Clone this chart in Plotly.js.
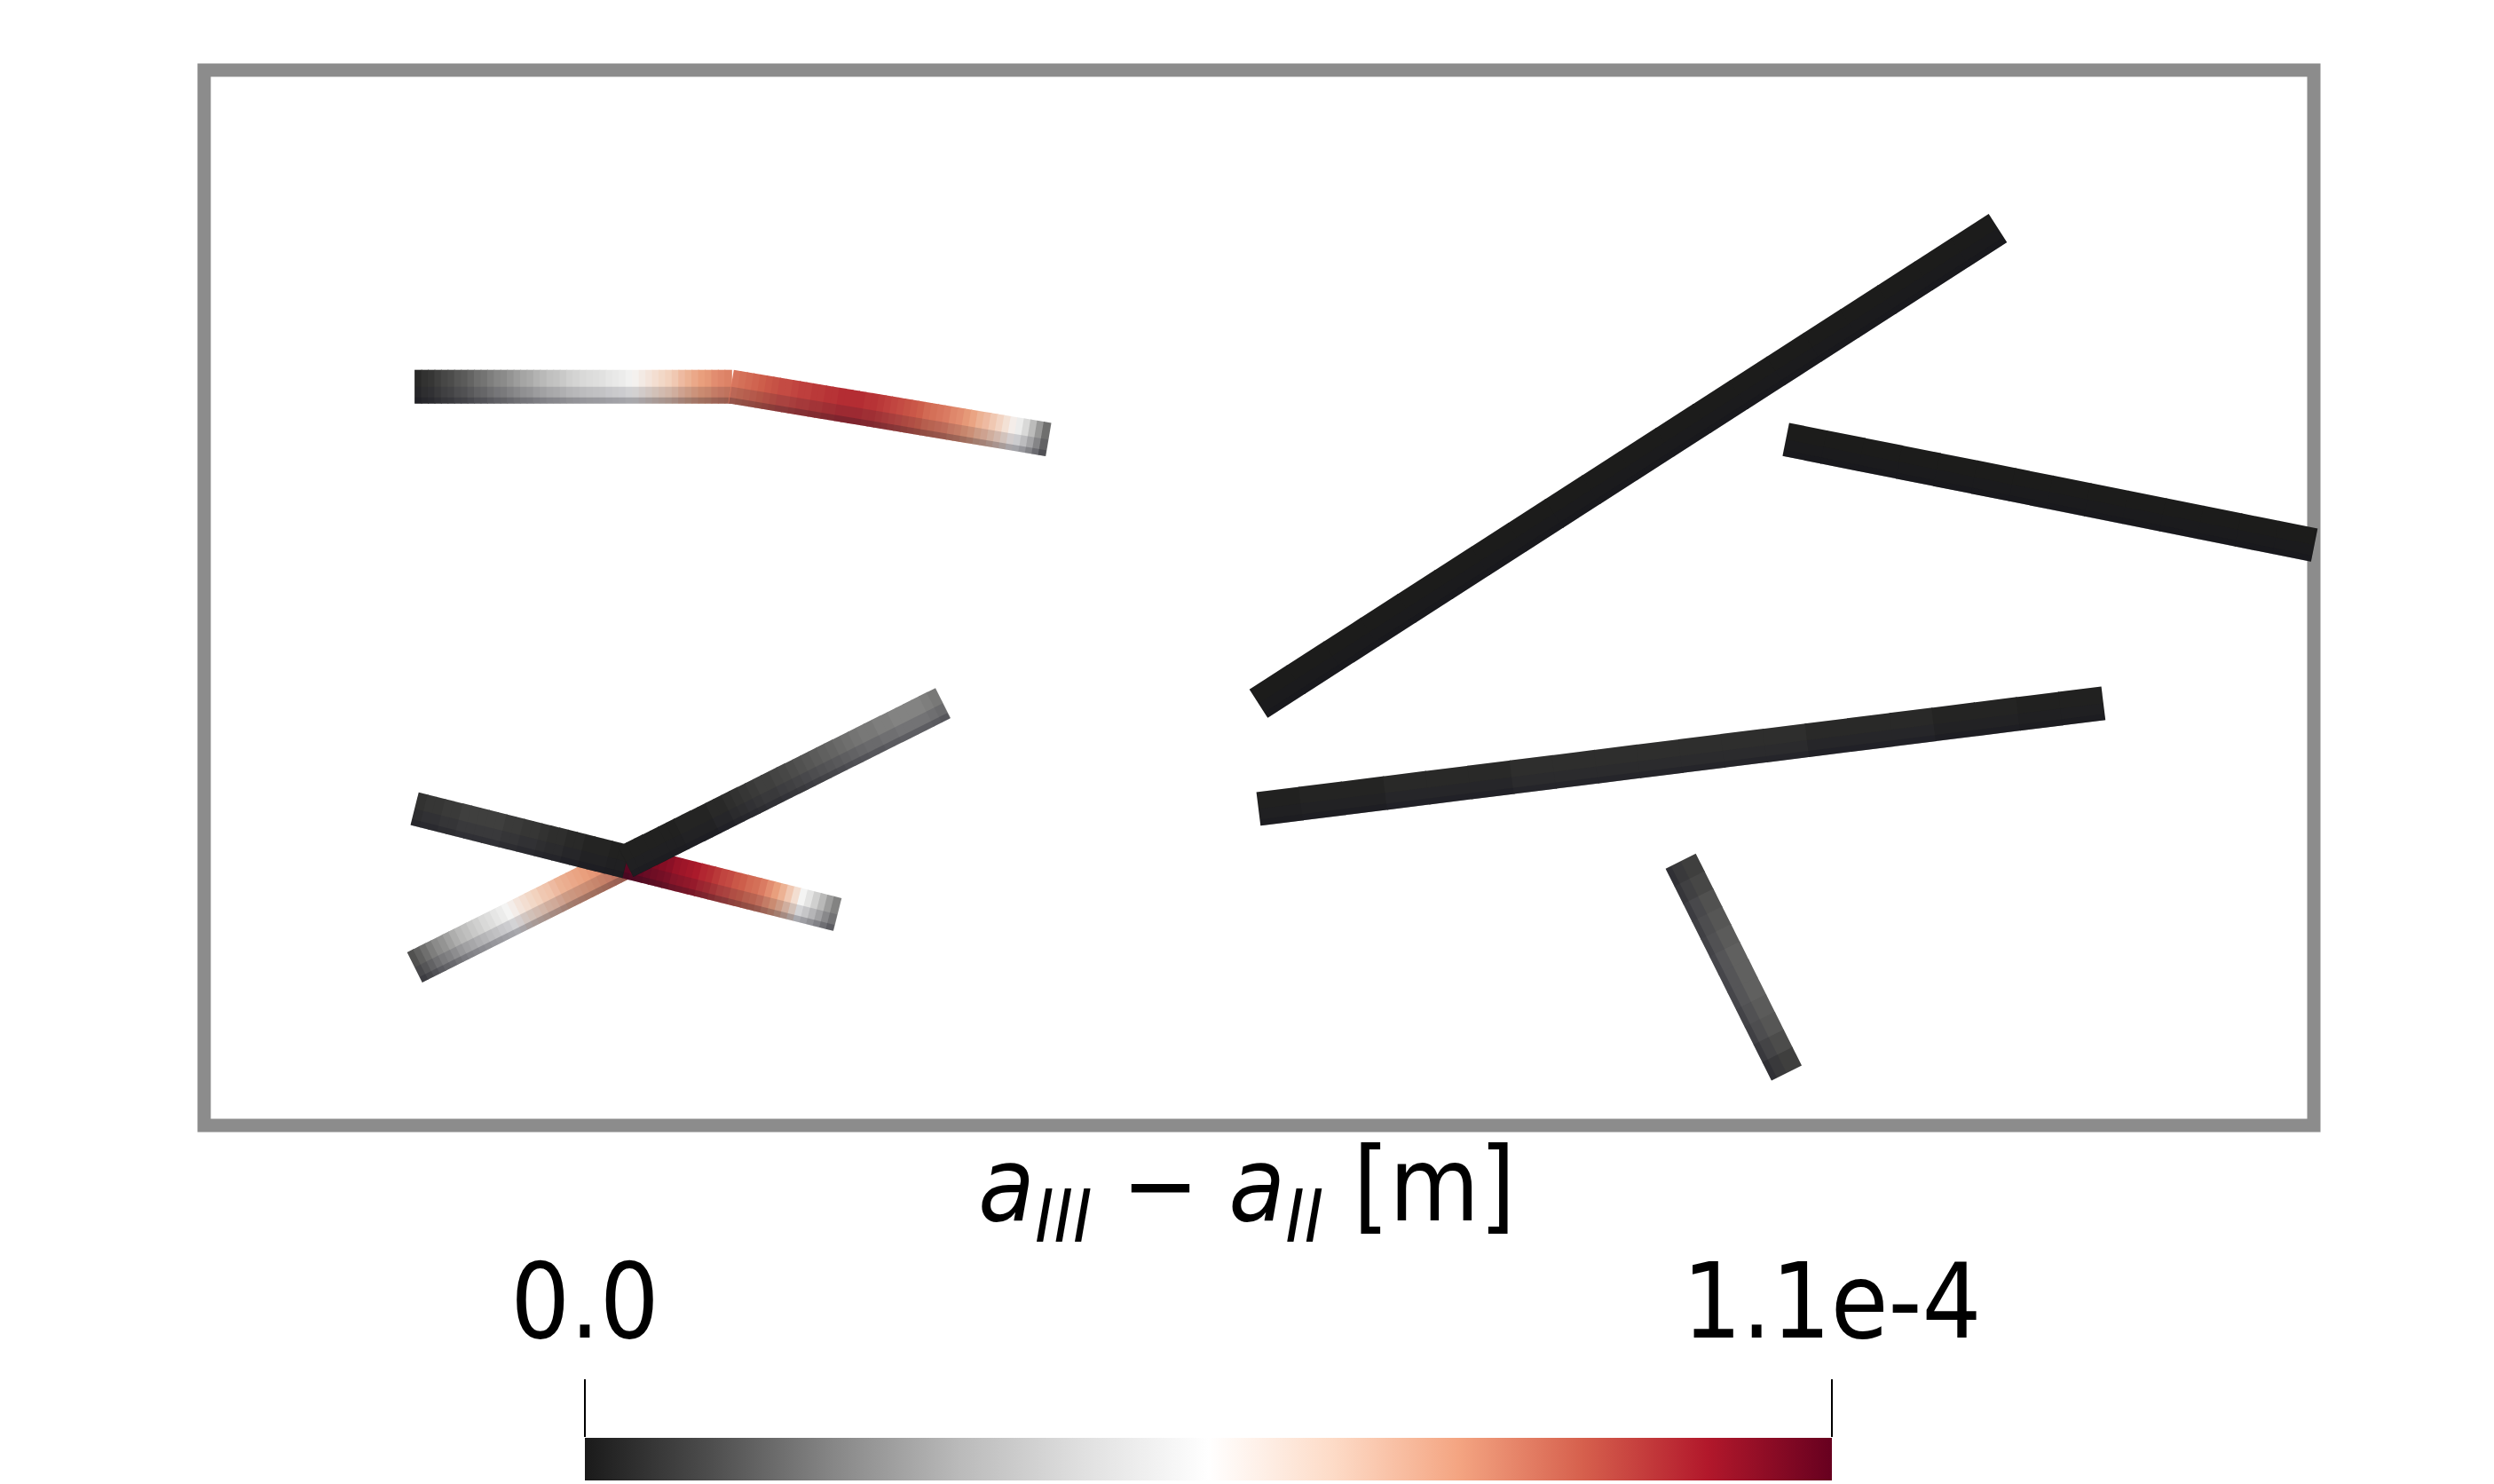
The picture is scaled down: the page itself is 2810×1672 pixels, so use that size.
<!DOCTYPE html>
<html><head><meta charset="utf-8">
<script src="https://cdn.plot.ly/plotly-3.0.1.min.js"></script>
<style>html,body{margin:0;padding:0;background:#fff}</style>
</head><body><div id="chart" style="width:2810px;height:1672px"></div>
<script>
// Fracture segments (domain coordinates, x in [0,2], y in [0,1])
const segNames = ['B', 'C', 'D', 'E', 'A1', 'A2', 'G1', 'F2', 'F1', 'G2'];
const segX0 = [1.0, 1.5, 1.0, 1.4, 0.2, 0.5, 0.2, 0.4, 0.2, 0.4];
const segY0 = [0.4, 0.65, 0.3, 0.25, 0.7, 0.7, 0.15, 0.25, 0.3, 0.25];
const segX1 = [1.7, 2.0, 1.8, 1.5, 0.5, 0.8, 0.4, 0.6, 0.4, 0.7];
const segY1 = [0.85, 0.55, 0.4, 0.05, 0.7, 0.65, 0.25, 0.2, 0.25, 0.4];

// a_III - a_II along each segment, start -> end, in units of 1e-4 m
const valsB  = [0.00,0.00,0.00,0.00,0.00,0.00,0.00,0.00,0.00,0.00,0.00,0.00,0.00,0.00,0.00,0.00,0.00,0.00,0.00,0.00];
const valsC  = [0.00,0.00,0.00,0.00,0.00,0.00,0.00,0.00,0.00,0.00,0.00,0.00,0.00,0.00];
const valsD  = [0.01,0.02,0.02,0.03,0.03,0.03,0.04,0.04,0.04,0.04,0.04,0.04,0.04,0.03,0.03,0.03,0.02,0.02,0.01,0.01];
const valsE  = [0.08,0.10,0.12,0.13,0.14,0.15,0.15,0.15,0.14,0.13,0.11,0.08];
const valsA1 = [0.03,0.05,0.06,0.08,0.10,0.11,0.13,0.14,0.16,0.18,0.19,0.21,0.23,0.24,0.26,0.28,
                0.30,0.31,0.33,0.35,0.37,0.38,0.40,0.42,0.43,0.45,0.46,0.47,0.48,0.50,0.51,0.52,
                0.54,0.56,0.58,0.60,0.62,0.64,0.66,0.68,0.71,0.73,0.75,0.77,0.78,0.80,0.81,0.82];
const valsA2 = [0.84,0.85,0.86,0.87,0.88,0.89,0.90,0.91,0.91,0.92,0.93,0.93,0.94,0.94,0.95,0.95,
                0.96,0.96,0.96,0.96,0.95,0.95,0.94,0.93,0.92,0.91,0.90,0.89,0.88,0.86,0.85,0.84,
                0.83,0.81,0.80,0.78,0.76,0.73,0.71,0.68,0.65,0.61,0.57,0.52,0.45,0.36,0.27,0.18];
const valsG1 = [0.12,0.15,0.18,0.21,0.24,0.26,0.29,0.32,0.35,0.37,0.40,0.42,0.45,0.47,0.50,0.52,0.55,0.57,
                0.60,0.62,0.64,0.66,0.68,0.69,0.71,0.73,0.74,0.75,0.76,0.77,0.78,0.79,0.80,0.81,0.82,0.83];
const valsF2 = [1.10,1.09,1.08,1.07,1.06,1.05,1.04,1.02,1.01,1.00,0.99,0.97,0.96,0.94,0.92,0.91,
                0.89,0.88,0.86,0.85,0.83,0.80,0.77,0.73,0.68,0.62,0.55,0.49,0.42,0.35,0.28,0.22];
const valsF1 = [0.05,0.06,0.06,0.07,0.07,0.08,0.08,0.08,0.08,0.08,0.07,0.07,
                0.06,0.06,0.05,0.04,0.04,0.03,0.03,0.02,0.02,0.02,0.01,0.01];
const valsG2 = [0.01,0.01,0.01,0.01,0.01,0.01,0.01,0.02,0.02,0.02,0.02,0.03,0.03,0.04,0.05,0.06,0.07,0.08,0.08,0.09,
                0.10,0.11,0.12,0.13,0.14,0.15,0.16,0.17,0.18,0.19,0.20,0.20,0.21,0.21,0.22,0.22,0.22,0.22,0.21,0.20];
const segVals = [valsB, valsC, valsD, valsE, valsA1, valsA2, valsG1, valsF2, valsF1, valsG2];

const colorMin = 0, colorMax = 1.1;
const tickVals = [0, 1.1];
const tickText = ['0.0', '1.1e-4'];
const barTitle = '<i>a</i><sub><i>III</i></sub> − <i>a</i><sub><i>II</i></sub> [m]';
const rdGyRev = [[0,'#1a1a1a'],[0.1,'#4d4d4d'],[0.2,'#878787'],[0.3,'#bababa'],[0.4,'#e0e0e0'],[0.5,'#ffffff'],
                 [0.6,'#fddbc7'],[0.7,'#f4a582'],[0.8,'#d6604d'],[0.9,'#b2182b'],[1,'#67001f']];

const W = 2810, H = 1672;
const FONT = 'Liberation Sans Narrow, DejaVu Sans Condensed, Arial Narrow, sans-serif';
const xDom = [230 / W, 2607 / W], yDom = [1 - 1268 / H, 1 - 79 / H];
const xRange = [0, 2], yRange = [0, 1];
const pxPerX = W * (xDom[1] - xDom[0]) / (xRange[1] - xRange[0]);
const pxPerY = H * (yDom[1] - yDom[0]) / (yRange[1] - yRange[0]);
const bandPx = 38;

function geom(i) {
  const x0 = segX0[i], y0 = segY0[i], dx = segX1[i] - x0, dy = segY1[i] - y0;
  const sx = dx * pxPerX, sy = -dy * pxPerY;          // screen direction (y down)
  const lenPx = Math.hypot(sx, sy);
  let nx = -sy / lenPx, ny = sx / lenPx;               // screen normal
  if (ny < 0) { nx = -nx; ny = -ny; }                 // point towards screen bottom
  return { x0, y0, dx, dy, lenPx, nx, ny };
}

function segTrace(i) {
  const vals = segVals[i], g = geom(i);
  const n = vals.length, xs = [], ys = [];
  for (let k = 0; k < n; k++) { const f = (k + 0.5) / n; xs.push(g.x0 + g.dx * f); ys.push(g.y0 + g.dy * f); }
  const ang = Math.atan2(g.dx * pxPerX, g.dy * pxPerY) * 180 / Math.PI;
  return {
    type: 'scatter', mode: 'markers', x: xs, y: ys, name: segNames[i],
    cliponaxis: false, hoverinfo: 'skip', showlegend: false,
    marker: { symbol: 'line-ew-open', size: bandPx / 1.4, angle: ang, color: vals,
              coloraxis: 'coloraxis', line: { width: g.lenPx / n + 1.2 } }
  };
}

// soft lighting strips (darker towards the lower edge of each band)
const shadeOffsets = [0, 0.25, 0.41];
const shadeWidths  = [1.0, 0.5, 0.18];
const shadeColors  = ['rgba(70,60,50,0.06)', 'rgba(30,30,45,0.15)', 'rgba(20,20,30,0.22)'];
function shadeTraces(i) {
  const g = geom(i);
  return shadeOffsets.map((o, j) => {
    const ox = g.nx * o * bandPx / pxPerX, oy = -g.ny * o * bandPx / pxPerY;
    return { type: 'scatter', mode: 'lines', x: [g.x0 + ox, g.x0 + g.dx + ox], y: [g.y0 + oy, g.y0 + g.dy + oy],
             line: { color: shadeColors[j], width: shadeWidths[j] * bandPx }, cliponaxis: false,
             hoverinfo: 'skip', showlegend: false };
  });
}

const traces = [];
segNames.forEach((_, i) => { traces.push(segTrace(i)); shadeTraces(i).forEach(t => traces.push(t)); });
traces.push({ type: 'scatter', mode: 'markers', x: tickVals, y: [0.5, 0.5], xaxis: 'x2', yaxis: 'y2',
              marker: { opacity: 0 }, hoverinfo: 'skip', showlegend: false });

const layout = {
  width: W, height: H, margin: { l: 0, r: 0, t: 0, b: 0 },
  paper_bgcolor: '#ffffff', plot_bgcolor: 'rgba(0,0,0,0)', showlegend: false,
  font: { family: FONT, color: '#000' },
  xaxis: { domain: xDom, range: xRange, visible: false, fixedrange: true },
  yaxis: { domain: yDom, range: yRange, visible: false, fixedrange: true },
  xaxis2: { domain: [659 / W, 2064 / W], range: [colorMin, colorMax], anchor: 'y2', side: 'top',
            tickmode: 'array', tickvals: tickVals, ticktext: tickText, ticks: 'outside', ticklen: 65,
            tickwidth: 2, tickcolor: '#000', showline: false, showgrid: false, zeroline: false,
            ticklabelstandoff: 0, tickfont: { family: FONT, size: 117, color: '#000' }, fixedrange: true },
  yaxis2: { domain: [4 / H, 52 / H], range: [0, 1], anchor: 'x2', visible: false, fixedrange: true },
  coloraxis: {
    cmin: colorMin, cmax: colorMax, colorscale: rdGyRev,
    colorbar: { orientation: 'h', x: 1361.5 / W, xanchor: 'center', y: 4 / H, yanchor: 'bottom',
                len: 1405, lenmode: 'pixels', thickness: 48, thicknessmode: 'pixels',
                xpad: 0, ypad: 0, outlinewidth: 0, showticklabels: false, ticks: '' }
  },
  shapes: [{ type: 'rect', xref: 'paper', yref: 'paper', x0: xDom[0], x1: xDom[1], y0: yDom[0], y1: yDom[1],
             line: { color: '#8c8c8c', width: 15 }, fillcolor: 'rgba(0,0,0,0)', layer: 'below' }],
  annotations: [{ xref: 'paper', yref: 'paper', x: 0.5, y: 1 - 1342 / H, xanchor: 'center', yanchor: 'middle',
                  text: barTitle, showarrow: false, font: { family: FONT, size: 116, color: '#000' } }]
};

Plotly.newPlot('chart', traces, layout, { staticPlot: true, displayModeBar: false });
</script></body></html>
